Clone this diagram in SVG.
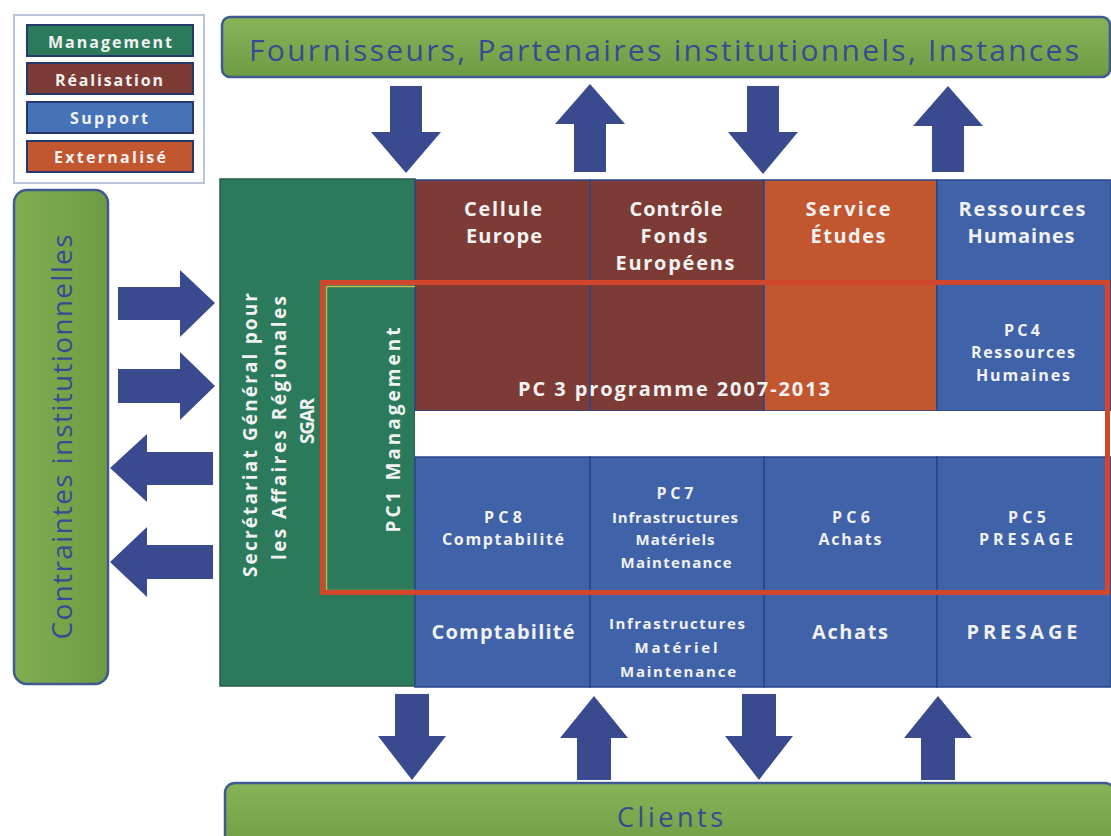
<svg xmlns="http://www.w3.org/2000/svg" width="1111" height="836" viewBox="0 0 1111 836">
<defs>
<linearGradient id="gBan" x1="0" y1="0" x2="0" y2="1">
<stop offset="0" stop-color="#88b458"/>
<stop offset="1" stop-color="#6e9c44"/>
</linearGradient>
<linearGradient id="gBanV" x1="0" y1="0" x2="1" y2="0">
<stop offset="0" stop-color="#80ae50"/>
<stop offset="1" stop-color="#6e9c44"/>
</linearGradient>
<style>
.ban{stroke:#3e5a8e;stroke-width:2.5}
.bt{font-family:"Open Sans","Liberation Sans",sans-serif;fill:#3a4a92;text-anchor:middle}
.w{font-family:"Open Sans","Liberation Sans",sans-serif;font-weight:bold;fill:#f1f1f1;text-anchor:middle}
.f20{font-size:20px}.f19{font-size:19px}.f16{font-size:16px}.f15{font-size:15px}.f14{font-size:14px}
.mg{fill:#2b7a5c}.re{fill:#7c3b34}.ex{fill:#c2572f}.su{fill:#3f62a8}
.cl{stroke:#2b4688;stroke-width:1.5}
.lg{stroke:#24386a;stroke-width:2}
.arr{fill:#3a4a8f}
</style>
</defs>
<rect width="1111" height="836" fill="#ffffff"/>

<g id="legend">
<rect x="14" y="15" width="190" height="168" fill="#ffffff" stroke="#b9c4d8" stroke-width="2"/>
<rect x="27" y="25" width="166" height="31" class="mg lg"/>
<text x="110" y="48" class="w f16" textLength="124">Management</text>
<rect x="27" y="63" width="166" height="31" class="re lg"/>
<text x="109" y="86" class="w f16" textLength="108">Réalisation</text>
<rect x="27" y="102" width="166" height="31" fill="#4672b8" class="lg"/>
<text x="109" y="124" class="w f16" textLength="78">Support</text>
<rect x="27" y="141" width="166" height="31" class="ex lg"/>
<text x="110" y="163" class="w f16" textLength="112">Externalisé</text>
</g>

<g id="fournisseurs">
<rect x="222" y="17" width="888" height="60" rx="8" fill="url(#gBan)" class="ban"/>
<text x="664" y="61" class="bt" style="font-size:30px" textLength="830">Fournisseurs, Partenaires institutionnels, Instances</text>
</g>

<g id="contraintes">
<rect x="14" y="190" width="94" height="494" rx="13" fill="url(#gBanV)" class="ban"/>
<text transform="translate(72,437) rotate(-90)" class="bt" style="font-size:28px" textLength="405">Contraintes institutionnelles</text>
</g>

<g id="clients">
<rect x="225" y="783" width="890" height="70" rx="10" fill="url(#gBan)" class="ban"/>
<text x="670" y="827" class="bt" style="font-size:27px" textLength="106">Clients</text>
</g>

<g id="sgar">
<rect x="220" y="179" width="195" height="507" class="mg" stroke="#2a5e4a" stroke-width="1.5"/>
<text transform="translate(257,435) rotate(-90)" class="w f19" textLength="284">Secrétariat Général pour</text>
<text transform="translate(286,428) rotate(-90)" class="w f19" textLength="264">les Affaires Régionales</text>
<text transform="translate(314,421) rotate(-90)" class="w f19" textLength="46">SGAR</text>
</g>

<g id="cellule-europe">
<rect x="415" y="180" width="175" height="102" class="re cl"/>
<text x="503" y="216" class="w f20" textLength="78">Cellule</text>
<text x="504" y="243" class="w f20" textLength="76">Europe</text>
</g>
<g id="controle-fonds">
<rect x="590" y="180" width="174" height="102" class="re cl"/>
<text x="676" y="216" class="w f20" textLength="93">Contrôle</text>
<text x="674" y="243" class="w f20" textLength="67">Fonds</text>
<text x="675" y="270" class="w f20" textLength="119">Européens</text>
</g>
<g id="service-etudes">
<rect x="764" y="180" width="173" height="102" class="ex cl"/>
<text x="848" y="216" class="w f20" textLength="85">Service</text>
<text x="848" y="243" class="w f20" textLength="75">Études</text>
</g>
<g id="ressources-humaines">
<rect x="937" y="180" width="174" height="102" class="su cl"/>
<text x="1022" y="216" class="w f20" textLength="127">Ressources</text>
<text x="1021" y="243" class="w f20" textLength="107">Humaines</text>
</g>

<g id="pc3">
<rect x="415" y="282" width="175" height="129" class="re cl"/>
<rect x="590" y="282" width="174" height="129" class="re cl"/>
<rect x="764" y="282" width="173" height="129" class="ex cl"/>
<text x="674" y="396" class="w f20" textLength="312">PC 3 programme 2007-2013</text>
</g>
<g id="pc4">
<rect x="937" y="282" width="174" height="129" class="su cl"/>
<text x="1022" y="336" class="w f16" textLength="36">PC4</text>
<text x="1023" y="358" class="w f16" textLength="104">Ressources</text>
<text x="1023" y="381" class="w f16" textLength="94">Humaines</text>
</g>

<rect x="415" y="411" width="696" height="46" fill="#ffffff"/>

<g id="pc8">
<rect x="415" y="457" width="175" height="137" class="su cl"/>
<text x="503" y="523" class="w f16" textLength="38">PC8</text>
<text x="503" y="545" class="w f16" textLength="122">Comptabilité</text>
</g>
<g id="pc7">
<rect x="590" y="457" width="174" height="137" class="su cl"/>
<text x="675" y="499" class="w f16" textLength="37">PC7</text>
<text x="675" y="523" class="w f15" textLength="126">Infrastructures</text>
<text x="675" y="545" class="w f15" textLength="79">Matériels</text>
<text x="676" y="568" class="w f15" textLength="111">Maintenance</text>
</g>
<g id="pc6">
<rect x="764" y="457" width="173" height="137" class="su cl"/>
<text x="851" y="523" class="w f16" textLength="38">PC6</text>
<text x="850" y="545" class="w f16" textLength="63">Achats</text>
</g>
<g id="pc5">
<rect x="937" y="457" width="174" height="137" class="su cl"/>
<text x="1027" y="523" class="w f16" textLength="38">PC5</text>
<text x="1026" y="545" class="w f16" textLength="94">PRESAGE</text>
</g>

<g id="comptabilite">
<rect x="415" y="594" width="175" height="93" class="su cl"/>
<text x="503" y="639" class="w f20" textLength="143">Comptabilité</text>
</g>
<g id="infrastructures">
<rect x="590" y="594" width="174" height="93" class="su cl"/>
<text x="677" y="629" class="w f15" textLength="136">Infrastructures</text>
<text x="676" y="653" class="w f15" textLength="83">Matériel</text>
<text x="678" y="677" class="w f15" textLength="116">Maintenance</text>
</g>
<g id="achats">
<rect x="764" y="594" width="173" height="93" class="su cl"/>
<text x="850" y="639" class="w f20" textLength="76">Achats</text>
</g>
<g id="presage">
<rect x="937" y="594" width="174" height="93" class="su cl"/>
<text x="1022" y="639" class="w f20" textLength="111">PRESAGE</text>
</g>

<g id="pc1">
<polyline points="415,286.5 326.5,286.5 326.5,590.5 415,590.5" fill="none" stroke="#c9b64a" stroke-width="1.5"/>
<text transform="translate(400,430) rotate(-90)" class="w f19" textLength="205">PC1  Management</text>
</g>

<g id="pc-frame">
<rect x="322.5" y="282.5" width="785" height="310" fill="none" stroke="#d2472b" stroke-width="5"/>
</g>

<g id="connectors">
<polygon class="arr" points="390,86 422,86 422,132 441,132 406,173 371,132 390,132"/>
<polygon class="arr" points="574,172 606,172 606,124 625,124 590,84 555,124 574,124"/>
<polygon class="arr" points="747,86 779,86 779,132 798,132 763,174 728,132 747,132"/>
<polygon class="arr" points="932,172 964,172 964,126 983,126 948,86 913,126 932,126"/>

<polygon class="arr" points="395,694 429,694 429,736 446,736 412,780 378,736 395,736"/>
<polygon class="arr" points="577,780 611,780 611,738 628,738 594,696 560,738 577,738"/>
<polygon class="arr" points="742,694 776,694 776,736 793,736 759,780 725,736 742,736"/>
<polygon class="arr" points="921,780 955,780 955,738 972,738 938,696 904,738 921,738"/>

<polygon class="arr" points="118,287 180,287 180,270 215,303 180,337 180,320 118,320"/>
<polygon class="arr" points="118,369 180,369 180,352 215,386 180,420 180,403 118,403"/>
<polygon class="arr" points="213,452 147,452 147,434 110,468 147,502 147,485 213,485"/>
<polygon class="arr" points="213,545 147,545 147,527 110,562 147,597 147,579 213,579"/>
</g>
</svg>
